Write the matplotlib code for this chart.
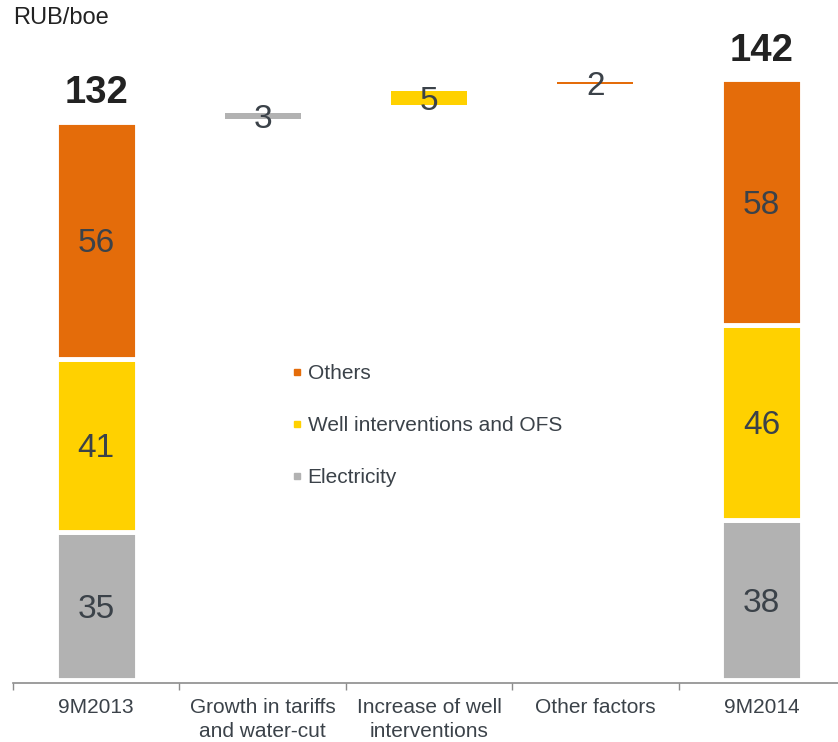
import matplotlib.pyplot as plt
from matplotlib.lines import Line2D

plt.rcParams['font.family'] = ['Liberation Sans', 'DejaVu Sans']

# data
categories = ["9M2013", "Growth in tariffs\nand water-cut", "Increase of well\ninterventions",
              "Other factors", "9M2014"]
segments = ["Electricity", "Well interventions and OFS", "Others"]
start_values = [35, 41, 56]
end_values = [38, 46, 58]
totals = [132, 142]
steps = [3, 5, 2]
# floating bars as drawn in the source (not to scale with the step labels)
step_low = [132.6, 135.9, 140.9]
step_high = [134.0, 139.2, 141.4]

colors = {"Electricity": "#B2B2B2", "Well interventions and OFS": "#FFD100", "Others": "#E46C0A"}
step_colors = ["#B2B2B2", "#FFD100", "#E46C0A"]
txt = "#3B4249"

fig = plt.figure(figsize=(8.38, 7.42), dpi=100)
ax = fig.add_axes([13 / 838, 1 - 683 / 742, 825 / 838, 683 / 742])

# stacked start / end bars
for xpos, vals in [(0, start_values), (4, end_values)]:
    bottom = 0
    for seg, v in zip(segments, vals):
        ax.bar(xpos, v, bottom=bottom, width=0.487, color=colors[seg],
               edgecolor="white", linewidth=3.5)
        ax.text(xpos, bottom + v / 2, str(v), ha="center", va="center_baseline",
                fontsize=24, color=txt)
        bottom += v

for xpos, t in zip([0, 4], totals):
    ax.annotate(str(t), (xpos, t), xytext=(0, 13), textcoords="offset points",
                ha="center", va="baseline", fontsize=27.5, fontweight="bold", color="#222222")

# floating steps
for i, (lo, hi, s) in enumerate(zip(step_low, step_high, steps)):
    ax.bar(i + 1, hi - lo, bottom=lo, width=0.457, color=step_colors[i], linewidth=0)
    ax.text(i + 1, (lo + hi) / 2, str(s), ha="center", va="center_baseline",
            fontsize=24, color=txt)

ax.set_xlim(-0.5, 4.458)
ax.set_ylim(-0.6, 160.7)

for sp in ["top", "right", "left"]:
    ax.spines[sp].set_visible(False)
ax.spines["bottom"].set_color("#8C8C8C")
ax.spines["bottom"].set_linewidth(1.2)
ax.set_yticks([])
ax.set_xticks(range(5))
ax.set_xticklabels(categories, fontsize=15, color=txt, linespacing=1.3)
ax.set_xticks([-0.5, 0.5, 1.5, 2.5, 3.5], minor=True)
ax.tick_params(axis="x", which="major", length=0, pad=11)
ax.tick_params(axis="x", which="minor", length=5, width=1, color="#8C8C8C")

# legend
handles = [Line2D([], [], marker="s", linestyle="none", markersize=4.5,
                  color=colors[s]) for s in reversed(segments)]
fig.legend(handles, list(reversed(segments)), loc="upper left",
           bbox_to_anchor=(292 / 838, 1 - 364 / 742), frameon=False,
           fontsize=15, labelcolor=txt, handlelength=0.5, handletextpad=0.25,
           labelspacing=1.58, borderpad=0, borderaxespad=0)

fig.text(13 / 838, 1 - 18 / 742, "RUB/boe", fontsize=17, color="#222222", va="center")

fig.savefig("out.png", dpi=100)
